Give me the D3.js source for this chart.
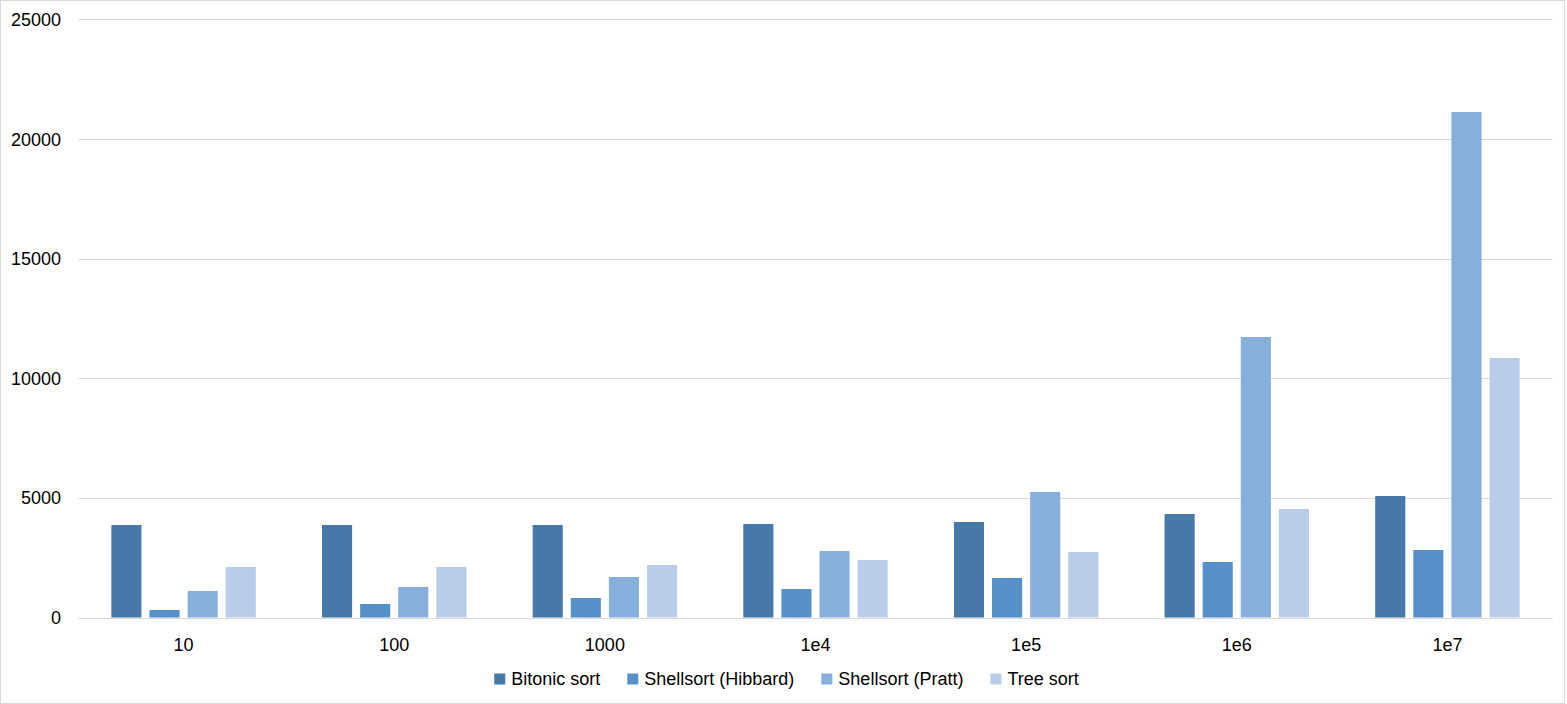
<!DOCTYPE html>
<html><head><meta charset="utf-8">
<script src="https://cdn.jsdelivr.net/npm/d3@7/dist/d3.min.js"></script>
<style>body{margin:0;background:#fff}svg{display:block}</style>
</head><body>
<svg id="c" width="1567" height="704"></svg>
<script>
const categories = ["10","100","1000","1e4","1e5","1e6","1e7"];
const seriesNames = ["Bitonic sort","Shellsort (Hibbard)","Shellsort (Pratt)","Tree sort"];
const bitonic  = [3866, 3866, 3866, 3908, 3991, 4325, 5077];
const hibbard  = [313, 564, 815, 1191, 1651, 2319, 2821];
const pratt    = [1107, 1275, 1693, 2779, 5245, 11723, 21126];
const treeSort = [2110, 2110, 2194, 2403, 2737, 4534, 10846];
const yTicks = [0, 5000, 10000, 15000, 20000, 25000];
const colors = ["#4778a8", "#5591c7", "#87afdb", "#b8cde8"];

const series = [bitonic, hibbard, pratt, treeSort];
const svg = d3.select("#c");
const W = 1567, H = 704;
const font = "'Liberation Sans', Arial, sans-serif";
const textColor = "#000";
const X0 = 78.3, X1 = 1552.7;

svg.append("rect").attr("x",0.5).attr("y",0.5).attr("width",W-3).attr("height",H-1)
  .attr("fill","#fff").attr("stroke","#d9d9d9");

const x0 = d3.scaleBand().domain(categories).range([X0, X1]).paddingInner(0.3143).paddingOuter(0.157);
const y = d3.scaleLinear().domain([0, 25000]).range([617.5, 19.3]);
const x1 = d3.scaleBand().domain(d3.range(4)).range([0, x0.bandwidth()]).paddingInner(0.21);

// gridlines
svg.append("g").selectAll("line").data(yTicks).join("line")
  .attr("x1", X0).attr("x2", X1)
  .attr("y1", d => Math.round(y(d)) + 0.5).attr("y2", d => Math.round(y(d)) + 0.5)
  .attr("stroke", "#d9d9d9").attr("stroke-width", 1);

// y axis labels
const yAxis = d3.axisLeft(y).tickValues(yTicks).tickSize(0).tickPadding(0).tickFormat(d3.format("d"));
const ya = svg.append("g").attr("transform","translate(61,0)").call(yAxis);
ya.select(".domain").remove();
ya.selectAll("text").attr("font-family", font).attr("font-size", 18).attr("fill", textColor).attr("dy","0.34em");

// bars
const g = svg.append("g");
categories.forEach((c, i) => {
  const gg = g.append("g").attr("transform", `translate(${x0(c)},0)`);
  gg.selectAll("rect").data(series.map((s, k) => ({k, v: s[i]}))).join("rect")
    .attr("x", d => x1(d.k)).attr("width", x1.bandwidth())
    .attr("y", d => y(d.v)).attr("height", d => y(0) - y(d.v))
    .attr("fill", d => colors[d.k]);
});

// x axis
const xAxis = d3.axisBottom(x0).tickSize(0).tickPadding(0);
const xa = svg.append("g").attr("transform", `translate(0,${Math.round(y(0))+0.5})`).call(xAxis);
xa.select(".domain").attr("stroke","#d9d9d9").attr("d",`M${X0},0H${X1}`);
xa.selectAll("text").attr("font-family", font).attr("font-size", 18).attr("fill", textColor).attr("y", 20).attr("dy","0.71em");

// legend
const lg = svg.append("g");
const items = seriesNames.map((n, k) => {
  const it = lg.append("g");
  it.append("rect").attr("width", 11).attr("height", 11).attr("y", -5.5).attr("fill", colors[k]);
  const t = it.append("text").text(n).attr("x", 17).attr("dy","0.35em")
    .attr("font-family", font).attr("font-size", 18).attr("fill", textColor);
  return {it, w: 17 + t.node().getComputedTextLength()};
});
const gap = 27;
const total = d3.sum(items, d => d.w) + gap * (items.length - 1);
let cx = 786.5 - total / 2;
items.forEach(d => { d.it.attr("transform", `translate(${cx},679)`); cx += d.w + gap; });
</script>
</body></html>
